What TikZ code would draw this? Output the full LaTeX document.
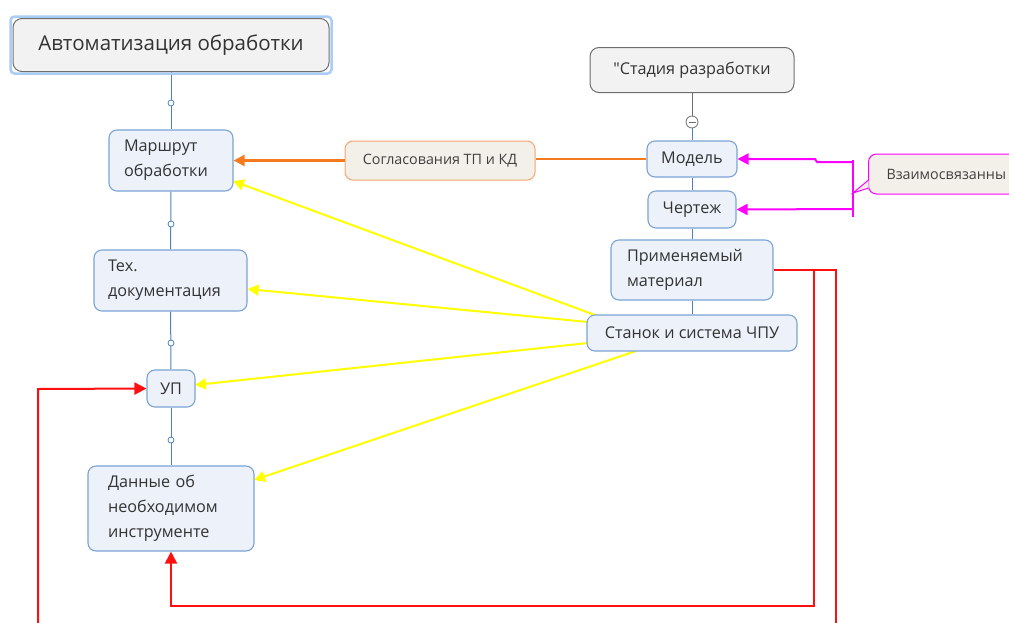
\documentclass[tikz,border=0pt]{standalone}
\usepackage{fontspec}
\setmainfont{Open Sans}[Ligatures=TeXOff]
\usetikzlibrary{arrows.meta,backgrounds}
\definecolor{boxfill}{HTML}{EDF2FA}
\definecolor{boxline}{HTML}{7BA3D4}
\definecolor{treeline}{HTML}{4F81BD}
\definecolor{grayfill}{HTML}{F2F2F2}
\definecolor{grayline}{HTML}{6E6E6E}
\definecolor{notefill}{HTML}{F2F0E9}
\definecolor{orangeline}{HTML}{F47B20}
\definecolor{orangebox}{HTML}{F6A470}
\definecolor{linkyellow}{HTML}{FFFF00}
\definecolor{linkred}{HTML}{FF1010}
\definecolor{linkmagenta}{HTML}{FF00FF}
\definecolor{rootglow}{HTML}{A9CDF5}
\tikzset{
  topic/.style={draw=boxline, fill=boxfill, line width=1.1pt, rounded corners=8pt,
    font=\fontsize{16.2}{25}\selectfont, text=black!80, inner sep=0pt},
  lefttext/.style={align=left},
  graybox/.style={draw=grayline, fill=grayfill, line width=1pt, rounded corners=9pt,
    text=black!80, inner sep=0pt},
  tree/.style={draw=treeline, line width=1pt},
  knob/.style={circle, draw=treeline, fill=white, line width=0.8pt, inner sep=0pt, minimum size=6pt},
  yarrow/.style={draw=linkyellow, line width=2pt, -{Triangle[length=11pt,width=11pt]}},
  rarrow/.style={draw=linkred, line width=2pt, -{Triangle[length=12pt,width=12pt]}},
  rline/.style={draw=linkred, line width=2pt},
  marrow/.style={draw=linkmagenta, line width=2pt, -{Triangle[length=11pt,width=11pt]}},
  mline/.style={draw=linkmagenta, line width=2pt},
  oarrow/.style={draw=orangeline, line width=2.2pt, -{Triangle[length=11pt,width=11pt]}},
  oline/.style={draw=orangeline, line width=2.2pt},
  note/.style={rounded corners=8pt, line width=1pt, inner sep=0pt,
    font=\fontsize{14.3}{17}\selectfont, text=black!75}
}
\begin{document}
\begin{tikzpicture}[x=1pt,y=-1pt]
\useasboundingbox (0,0) rectangle (1009,622);
\clip (0,0) rectangle (1009,622);

% root topic with its selection glow
\node[draw=rootglow, line width=2.5pt, rounded corners=4pt, minimum width=321pt, minimum height=57pt] (glow) at (171,45) {};
\node[graybox, minimum width=316pt, minimum height=53pt, font=\fontsize{20.5}{24}\selectfont] (root) at (171,45) {Автоматизация обработки};

% left branch
\node[topic, lefttext, minimum width=124pt, minimum height=61pt, text width=94pt] (route) at (171,160.5) {Маршрут\\обработки};
\node[topic, lefttext, minimum width=153pt, minimum height=61pt, text width=125pt] (docs) at (170.5,280.5) {Тех.\\документация};
\node[topic, minimum width=48pt, minimum height=37pt] (up) at (171,388.5) {УП};
\node[topic, lefttext, minimum width=166pt, minimum height=85pt, text width=126pt] (tools) at (171,508.5) {Данные об\\необходимом\\инструменте};

\begin{scope}[on background layer]
\draw[tree] (root.south -| 171,0) -- (route.north);
\draw[tree] (route) -- (docs);
\draw[tree] (docs) -- (up);
\draw[tree] (up) -- (tools);
\end{scope}
\node[knob] (k1) at (171,103) {};
\node[knob] (k2) at (171,224) {};
\node[knob] (k3) at (171,343) {};
\node[knob] (k4) at (171,440) {};

% right branch
\node[graybox, minimum width=204pt, minimum height=45pt, font=\fontsize{16.2}{19}\selectfont] (stage) at (692,70) {"Стадия разработки};
\node[topic, minimum width=90pt, minimum height=36pt] (model) at (692,159) {Модель};
\node[topic, minimum width=88pt, minimum height=37pt] (drawing) at (692,209.5) {Чертеж};
\node[topic, lefttext, minimum width=162pt, minimum height=60pt, text width=130pt] (material) at (692,270) {Применяемый\\материал};
\node[topic, minimum width=210pt, minimum height=36pt] (machine) at (692,333) {Станок и система ЧПУ};

\begin{scope}[on background layer]
\draw[draw=grayline, line width=1pt] (stage.south) -- (692,116);
\draw[tree] (692,128) -- (model.north);
\draw[tree] (model) -- (drawing);
\draw[tree] (drawing) -- (material);
\draw[tree] (material) -- (machine);
\end{scope}
\node[circle, draw=grayline, fill=white, line width=0.8pt, minimum size=12pt, inner sep=0pt] (fold) at (692,122) {};
\draw[draw=grayline, line width=1pt] (688.5,122) -- (695.5,122);

% approval link
\node[note, draw=orangebox, fill=notefill, minimum width=190pt, minimum height=39pt] (agree) at (440,160.5) {Согласования ТП и КД};
\draw[oline] (model.west) -- (agree.east |- model.west);
\draw[oarrow] (agree.west |- route.east) -- (route.east);

% yellow links from the machine
\coordinate (m1) at (603,318);
\coordinate (m2) at (588,322);
\coordinate (m3) at (588,343);
\coordinate (m4) at (636,351);
\begin{scope}[on background layer]
\draw[yarrow] (m1) -- (233,181);
\draw[yarrow] (m2) -- (docs.east |- 0,289);
\draw[yarrow] (m3) -- (195,385);
\draw[yarrow] (m4) -- (254,480);
\end{scope}

% red links from the material
\draw[rline] (material.east |- 0,270) -- (836,270) -- (836,640);
\draw[rarrow] (814,270) -- (814,606) -- (171,606) -- (tools.south);
\draw[rarrow] (38,640) -- (38,389) -- (up.west);

% interrelation note
\coordinate (hub) at (853,193);
\draw[marrow] (853,162) -- (817,162) -- (815,159) -- (model.east);
\draw[marrow] (853,209) -- (drawing.east);
\draw[mline] (853,160) -- (853,217);
\node[note, draw=linkmagenta, fill=notefill, minimum width=160pt, minimum height=40pt, anchor=west, text width=150pt, align=left] (linked) at (868,174) {\hspace*{13pt}Взаимосвязанны};
\draw[draw=linkmagenta, fill=notefill, line width=1pt] (868.5,180) -- (hub) -- (868.5,188);
\end{tikzpicture}
\end{document}
